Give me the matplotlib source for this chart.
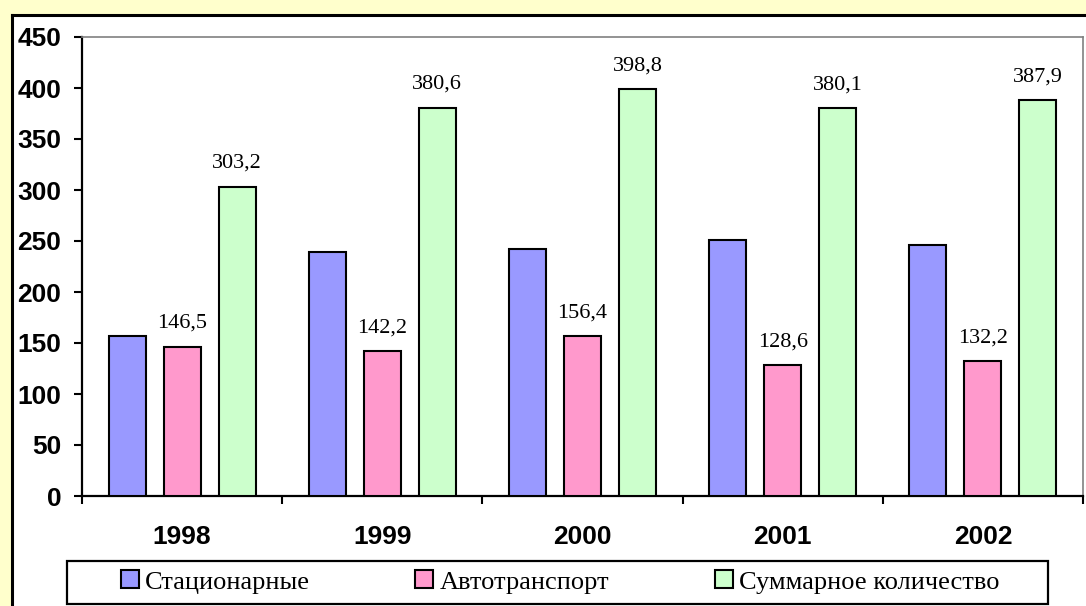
import matplotlib
matplotlib.use("Agg")
import matplotlib.pyplot as plt
from matplotlib.patches import Rectangle, Patch
from matplotlib.lines import Line2D
import numpy as np

years = ["1998", "1999", "2000", "2001", "2002"]
stationary = [157, 239, 242, 251, 246]
transport = [146.5, 142.2, 156.4, 128.6, 132.2]
total = [303.2, 380.6, 398.8, 380.1, 387.9]
series_names = ["Стационарные", "Автотранспорт", "Суммарное количество"]
colors = ["#9999FF", "#FF99CC", "#CCFFCC"]

W, H = 1086, 606
fig = plt.figure(figsize=(W / 100, H / 100), dpi=100, facecolor="#FFFFCC")

# white chart area with dark border on the left and top
fig.patches.append(Rectangle((11 / W, 0), 1.0, (H - 15) / H, transform=fig.transFigure,
                             facecolor="white", edgecolor="none", zorder=-2))
fig.lines.append(Line2D([11.5 / W, 11.5 / W], [0, (H - 14.5) / H], transform=fig.transFigure,
                        color="black", lw=2.2, zorder=-1))
fig.lines.append(Line2D([11.5 / W, 1.0], [(H - 14.5) / H, (H - 14.5) / H], transform=fig.transFigure,
                        color="black", lw=2.2, zorder=-1))

ax = fig.add_axes([82 / W, (H - 496) / H, (1083 - 82) / W, (496 - 37) / H])
ax.set_facecolor("white")

x = np.arange(len(years))
width = 0.185
offset = 0.275
groups = [stationary, transport, total]
for i, (vals, col) in enumerate(zip(groups, colors)):
    bars = ax.bar(x + (i - 1) * offset, vals, width, color=col, edgecolor="black",
                  linewidth=1.5, zorder=3, label=series_names[i])
    if i > 0:
        for b, v in zip(bars, vals):
            ax.annotate(f"{v:.1f}".replace(".", ","),
                        (b.get_x() + b.get_width() / 2, v),
                        xytext=(0, 13.5), textcoords="offset points",
                        ha="center", va="baseline",
                        fontsize=16, family="Liberation Serif", color="black")

ax.set_xlim(-0.5, len(years) - 0.5)
ax.set_ylim(0, 450)
ax.set_yticks(np.arange(0, 451, 50))
ax.set_xticks(x)
ax.set_xticklabels(years)
ax.set_xticks(np.arange(-0.5, len(years), 1.0), minor=True)

for lab in ax.get_xticklabels() + ax.get_yticklabels():
    lab.set_fontfamily("Liberation Sans")
    lab.set_fontweight("bold")
    lab.set_fontsize(19)

ax.tick_params(axis="y", which="major", length=6, width=1.5, direction="out", pad=9)
ax.tick_params(axis="x", which="major", length=0, pad=21)
ax.tick_params(axis="x", which="minor", length=6, width=1.5, direction="out")

for s in ["left", "bottom"]:
    ax.spines[s].set_color("black")
    ax.spines[s].set_linewidth(1.6)
for s in ["top", "right"]:
    ax.spines[s].set_color("#808080")
    ax.spines[s].set_linewidth(1.2)

# legend box
fig.patches.append(Rectangle((67 / W, (H - 604) / H), (1048 - 67) / W, 43 / H,
                             transform=fig.transFigure, facecolor="white",
                             edgecolor="black", linewidth=1.6, zorder=1))
handles = [Patch(facecolor=c, edgecolor="black", linewidth=1.5) for c in colors]
leg = fig.legend(handles, series_names, loc="center",
                 bbox_to_anchor=(560 / W, (H - 582) / H),
                 ncol=3, frameon=False,
                 prop={"family": "Liberation Serif", "size": 19},
                 handlelength=0.68, handleheight=0.68, handletextpad=0.23,
                 borderpad=0, borderaxespad=0, columnspacing=4.0)
leg.set_zorder(2)

fig.savefig("out.png", dpi=100, facecolor=fig.get_facecolor())
